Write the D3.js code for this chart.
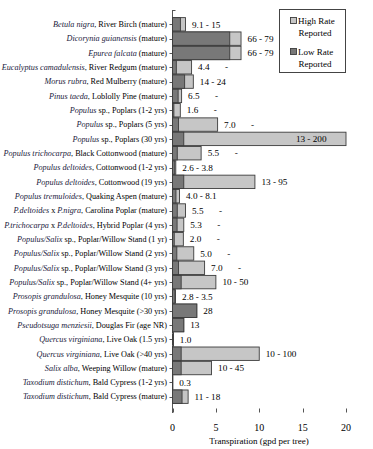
<!DOCTYPE html>
<html><head><meta charset="utf-8">
<script src="https://cdn.jsdelivr.net/npm/d3@7"></script>
<style>body{margin:0;background:#fff}svg{display:block;font-family:"Liberation Serif","Times New Roman",serif}</style>
</head><body><svg id="c" width="373" height="449"></svg>
<script>
// category label parts: [italic, normal, italic, normal]
const categories = [
 ["Betula nigra", ", River Birch (mature)"],
 ["Dicorynia guianensis", " (mature)"],
 ["Epurea falcata", " (mature)"],
 ["Eucalyptus camadulensis", ", River Redgum (mature)"],
 ["Morus rubra", ", Red Mulberry (mature)"],
 ["Pinus taeda", ", Loblolly Pine (mature)"],
 ["Populus", " sp., Poplars (1-2 yrs)"],
 ["Populus", " sp., Poplars (5 yrs)"],
 ["Populus", " sp., Poplars (30 yrs)"],
 ["Populus trichocarpa", ", Black Cottonwood (mature)"],
 ["Populus deltoides", ", Cottonwood (1-2 yrs)"],
 ["Populus deltoides", ", Cottonwood (19 yrs)"],
 ["Populus tremuloides", ", Quaking Aspen (mature)"],
 ["P.deltoides", " x ", "P.nigra", ", Carolina Poplar (mature)"],
 ["P.trichocarpa", " x ", "P.deltoides", ", Hybrid Poplar (4 yrs)"],
 ["Populus/Salix", " sp., Poplar/Willow Stand (1 yr)"],
 ["Populus/Salix", " sp., Poplar/Willow Stand (2 yrs)"],
 ["Populus/Salix", " sp., Poplar/Willow Stand (3 yrs)"],
 ["Populus/Salix", " sp., Poplar/Willow Stand (4+ yrs)"],
 ["Prosopis grandulosa", ", Honey Mesquite (10 yrs)"],
 ["Prosopis grandulosa", ", Honey Mesquite (>30 yrs)"],
 ["Pseudotsuga menziesii", ", Douglas Fir (age NR)"],
 ["Quercus virginiana", ", Live Oak (1.5 yrs)"],
 ["Quercus virginiana", ", Live Oak (>40 yrs)"],
 ["Salix alba", ", Weeping Willow (mature)"],
 ["Taxodium distichum", ", Bald Cypress (1-2 yrs)"],
 ["Taxodium distichum", ", Bald Cypress (mature)"]
];
const lowRate  = [0.91,6.6,6.6,0.44,1.4,0.65,0.16,0.70,1.3,0.55,0.26,1.3,0.40,0.55,0.53,0.20,0.50,0.70,1.0,0.28,2.8,1.3,0.10,1.0,1.0,0.03,1.1];
const highRate = [1.5,7.9,7.9,2.2,2.4,1.05,0.9,5.2,20,3.3,0.38,9.5,0.81,1.5,1.3,1.25,2.45,3.7,5.0,0.35,2.8,1.3,0.10,10.0,4.5,0.03,1.8];
const rateLabels = ["9.1 - 15","66 - 79","66 - 79","4.4|-","14 - 24","6.5|-","1.6|-","7.0|-","13 - 200","5.5|-",
 "2.6 - 3.8","13 - 95","4.0 - 8.1","5.5|-","5.3|-","2.0|-","5.0|-","7.0|-","10 - 50","2.8 - 3.5","28","13","1.0",
 "10 - 100","10 - 45","0.3","11 - 18"];
const xTicks = [0,5,10,15,20];
const xTitle = "Transpiration (gpd per tree)";
const legendItems = [["High Rate","Reported"],["Low Rate","Reported"]];

const svg = d3.select("#c");
const idx = d3.range(categories.length);
const x = d3.scaleLinear().domain([0,20]).range([172.5,346]);
const y = d3.scalePoint().domain(idx).range([10,411]).padding(1);
const bh = 13.4;
const lightFill = "#c6c6c6", darkFill = "#787878", barStroke = "#3c3c3c";

// y axis line and ticks
const ax = "#555";
svg.append("line").attr("x1",x(0)).attr("x2",x(0)).attr("y1",10).attr("y2",413).attr("stroke",ax);
svg.append("line").attr("x1",x(0)).attr("x2",x(0)+3).attr("y1",10.5).attr("y2",10.5).attr("stroke",ax);
svg.selectAll(".yt").data(idx).join("line")
  .attr("x1",x(0)-3).attr("x2",x(0)).attr("y1",d=>Math.round(y(d))+0.5).attr("y2",d=>Math.round(y(d))+0.5).attr("stroke",ax);

// bars
const g = svg.append("g");
g.selectAll(".hi").data(idx).join("rect")
  .attr("x",x(0)).attr("y",d=>y(d)-bh/2).attr("width",d=>x(highRate[d])-x(0)).attr("height",bh)
  .attr("fill",lightFill).attr("stroke",barStroke).attr("stroke-width",0.9);
g.selectAll(".lo").data(idx).join("rect")
  .attr("x",x(0)).attr("y",d=>y(d)-bh/2).attr("width",d=>x(lowRate[d])-x(0)).attr("height",bh)
  .attr("fill",darkFill).attr("stroke",barStroke).attr("stroke-width",0.9);

// data labels
idx.forEach(i=>{
  const lab = rateLabels[i];
  const yy = y(i)+3.2;
  const end = x(highRate[i]);
  if (end > 320) {
    svg.append("text").attr("x",end-19.5).attr("y",yy).attr("text-anchor","end").attr("font-size",9.2).text(lab);
  } else if (lab.includes("|")) {
    const [a,b] = lab.split("|");
    svg.append("text").attr("x",end+6.5).attr("y",yy).attr("font-size",9.2).text(a);
    svg.append("text").attr("x",end+6.5+27).attr("y",yy).attr("font-size",9.2).text(b);
  } else {
    svg.append("text").attr("x",end+6.5).attr("y",yy).attr("font-size",9.2).text(lab);
  }
});

// category labels
idx.forEach(i=>{
  const t = svg.append("text").attr("x",167).attr("y",y(i)+2.8).attr("text-anchor","end").attr("font-size",8.2);
  categories[i].forEach((p,k)=>{
    const ts = t.append("tspan").text(p);
    if (k%2===0) ts.attr("font-style","italic").attr("fill","#1a1a3c");
  });
});

// x ticks
svg.selectAll(".xt").data(xTicks).join("line")
  .attr("x1",d=>Math.round(x(d))+0.5).attr("x2",d=>Math.round(x(d))+0.5).attr("y1",408.5).attr("y2",412.5).attr("stroke",ax);
svg.selectAll(".xl").data(xTicks).join("text")
  .attr("x",d=>x(d)).attr("y",430.5).attr("text-anchor","middle").attr("font-size",10).text(d=>d);
svg.append("text").attr("x",259).attr("y",444).attr("text-anchor","middle").attr("font-size",9).text(xTitle);

// legend
const lg = svg.append("g");
lg.append("rect").attr("x",279.5).attr("y",9.5).attr("width",66).attr("height",63).attr("fill","#fff").attr("stroke","#444");
const legColors = [lightFill, darkFill];
legendItems.forEach((it,k)=>{
  const oy = k*31;
  lg.append("rect").attr("x",290.5).attr("y",17.5+oy).attr("width",6).attr("height",6).attr("fill",legColors[k]).attr("stroke",barStroke).attr("stroke-width",0.9);
  lg.append("text").attr("x",298).attr("y",24+oy).attr("font-size",9).text(it[0]);
  lg.append("text").attr("x",298.5).attr("y",36+oy).attr("font-size",9).text(it[1]);
});
</script></body></html>
